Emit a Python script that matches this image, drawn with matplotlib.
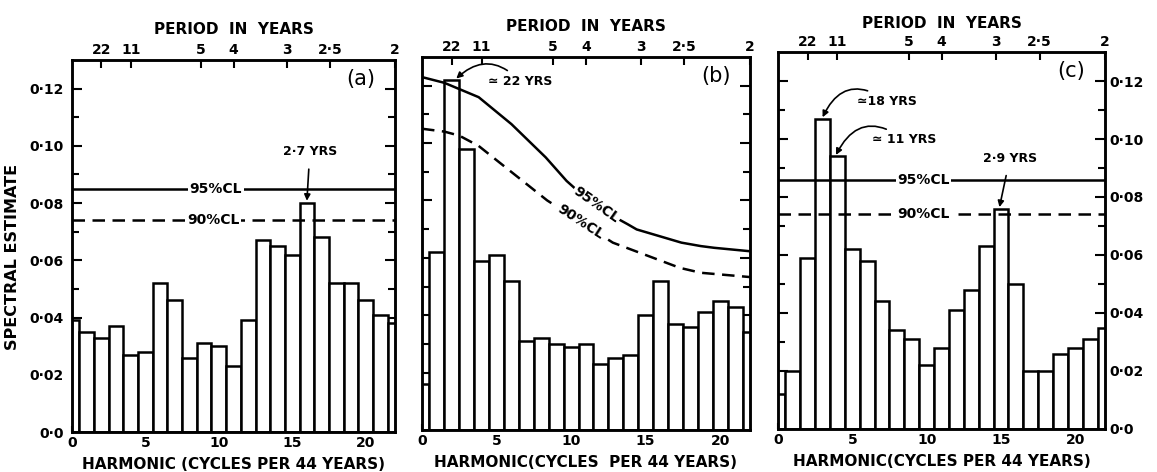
import numpy as np
import matplotlib.pyplot as plt

plt.rcParams['font.family'] = ['DejaVu Sans']

# harmonics 0..22 (cycles per 44 years)
harmonic = np.arange(0, 23)

spec_a = [0.039, 0.035, 0.033, 0.037, 0.027, 0.028, 0.052, 0.046, 0.026, 0.031, 0.030, 0.023,
          0.039, 0.067, 0.065, 0.062, 0.080, 0.068, 0.052, 0.052, 0.046, 0.041, 0.038]
spec_b = [0.016, 0.062, 0.122, 0.098, 0.059, 0.061, 0.052, 0.031, 0.032, 0.030, 0.029, 0.030,
          0.023, 0.025, 0.026, 0.040, 0.052, 0.037, 0.036, 0.041, 0.045, 0.043, 0.034]
spec_c = [0.012, 0.020, 0.059, 0.107, 0.094, 0.062, 0.058, 0.044, 0.034, 0.031, 0.022, 0.028,
          0.041, 0.048, 0.063, 0.076, 0.050, 0.020, 0.020, 0.026, 0.028, 0.031, 0.035]

# confidence limits
cl95_a, cl90_a = 0.085, 0.074
cl95_c, cl90_c = 0.086, 0.074
clx95_b = [0, 1.5, 3.8, 6.0, 8.3, 9.7, 11.6, 13.8, 14.4, 17.4, 18.7, 19.6, 22]
cl95_b = [0.123, 0.121, 0.116, 0.1066, 0.095, 0.0868, 0.078, 0.0717, 0.0699, 0.0653, 0.0641, 0.0635, 0.0623]
clx90_b = [0, 1.5, 2.5, 3.8, 8.4, 12.8, 17.3, 18.7, 22]
cl90_b = [0.105, 0.104, 0.1026, 0.099, 0.080, 0.0653, 0.0565, 0.0548, 0.0533]

# top axis: period in years
period = [22, 11, 5, 4, 3, 2.5, 2]
period_lbl = ['22', '11', '5', '4', '3', '2·5', '2']

ytick_vals = [0, 0.02, 0.04, 0.06, 0.08, 0.10, 0.12]
ytick_lbl = ['0·0', '0·02', '0·04', '0·06', '0·08', '0·10', '0·12']

LW = 1.8
fig = plt.figure(figsize=(11.57, 4.72), dpi=100)


def px_axes(l, r, t, b):
    W, H = 1157, 472
    return fig.add_axes([l / W, (H - b) / H, (r - l) / W, (b - t) / H])


def panel(ax, vals, xlabel, letter, ylab_side, title_pad):
    ax.bar(harmonic, vals, width=1.0, color='white', edgecolor='black', linewidth=LW, zorder=2)
    ax.set_xlim(0, 22)
    ax.set_ylim(0, 0.13)
    ax.set_xticks([0, 5, 10, 15, 20])
    ax.set_xticklabels(['0', '5', '10', '15', '20'], fontsize=10, fontweight='bold')
    ax.set_xticks(harmonic, minor=True)
    ax.set_yticks(ytick_vals)
    ax.set_yticks(np.arange(0.01, 0.13, 0.02), minor=True)
    ax.tick_params(axis='x', which='both', direction='in', length=4, width=1.5, pad=3)
    ax.tick_params(axis='y', which='both', direction='in', left=True, right=True, width=1.5)
    ax.tick_params(axis='y', which='major', length=7)
    ax.tick_params(axis='y', which='minor', length=5)
    if ylab_side == 'left':
        ax.set_yticklabels(ytick_lbl, fontsize=10, fontweight='bold')
        ax.tick_params(axis='y', pad=6)
    elif ylab_side == 'right':
        ax.yaxis.tick_right()
        ax.tick_params(axis='y', which='both', left=True, right=True, labelleft=False, labelright=True, pad=3)
        ax.set_yticklabels(ytick_lbl, fontsize=10, fontweight='bold')
    else:
        ax.set_yticklabels([])
    for s in ax.spines.values():
        s.set_linewidth(LW)
    ax.set_xlabel(xlabel, fontsize=11, fontweight='bold', labelpad=5)
    ax.text(0.895, 0.95, letter, transform=ax.transAxes, fontsize=15, ha='center', va='center')

    top = ax.twiny()
    top.set_xlim(0, 22)
    top.set_xticks([44 / p for p in period])
    top.set_xticklabels(period_lbl, fontsize=10, fontweight='bold')
    top.tick_params(direction='in', length=6, width=1.5, pad=2)
    top.set_title('PERIOD  IN  YEARS', fontsize=11, fontweight='bold', pad=title_pad)
    for s in top.spines.values():
        s.set_linewidth(LW)
    return ax


def cl_label(ax, x, y, s, rot=0):
    ax.text(x, y, s, fontsize=10, fontweight='bold', ha='center', va='center', rotation=rot,
            rotation_mode='anchor', zorder=5,
            bbox=dict(facecolor='white', edgecolor='none', pad=1))


# (a)
ax_a = px_axes(72, 395, 60, 432)
panel(ax_a, spec_a, 'HARMONIC (CYCLES PER 44 YEARS)', '(a)', 'left', 19)
ax_a.axhline(cl95_a, color='black', lw=LW, zorder=3)
ax_a.axhline(cl90_a, color='black', lw=LW, ls=(0, (5, 3)), zorder=3)
cl_label(ax_a, 9.8, cl95_a, '95%CL')
cl_label(ax_a, 9.6, cl90_a, '90%CL')
ax_a.annotate('2·7 YRS', xy=(16, 0.0808), xytext=(16.2, 0.098), fontsize=9, fontweight='bold',
              ha='center', va='center', zorder=6,
              arrowprops=dict(arrowstyle='-|>', color='black', lw=1.2, mutation_scale=9, shrinkA=6, shrinkB=0))
fig.text(12.5 / 1157, 1 - 257 / 472, 'SPECTRAL ESTIMATE', rotation=90, ha='center', va='center',
         fontsize=11.5, fontweight='bold')

# (b)
ax_b = px_axes(422, 750, 57, 430)
panel(ax_b, spec_b, 'HARMONIC(CYCLES  PER 44 YEARS)', '(b)', 'none', 19)
ax_b.plot(clx95_b, cl95_b, color='black', lw=LW, zorder=3)
ax_b.plot(clx90_b, cl90_b, color='black', lw=LW, ls=(0, (5, 3)), zorder=3)
cl_label(ax_b, 11.7, 0.0785, '95%CL', rot=-35)
cl_label(ax_b, 10.6, 0.0725, '90%CL', rot=-33)
ax_b.annotate('≃ 22 YRS', xy=(2.3, 0.1225), xytext=(4.4, 0.1215), fontsize=9, fontweight='bold',
              ha='left', va='center', zorder=6,
              arrowprops=dict(arrowstyle='-|>', color='black', lw=1.2, mutation_scale=9,
                              connectionstyle='arc3,rad=0.5', shrinkA=2, shrinkB=0))

# (c)
ax_c = px_axes(778, 1105, 52, 429)
panel(ax_c, spec_c, 'HARMONIC(CYCLES PER 44 YEARS)', '(c)', 'right', 17)
ax_c.axhline(cl95_c, color='black', lw=LW, zorder=3)
ax_c.axhline(cl90_c, color='black', lw=LW, ls=(0, (5, 3)), zorder=3)
cl_label(ax_c, 9.8, cl95_c, '95%CL')
cl_label(ax_c, 9.8, cl90_c, '90%CL')
ax_c.annotate('≃18 YRS', xy=(3.0, 0.1075), xytext=(5.3, 0.1131), fontsize=9, fontweight='bold',
              ha='left', va='center', zorder=6,
              arrowprops=dict(arrowstyle='-|>', color='black', lw=1.2, mutation_scale=9,
                              connectionstyle='arc3,rad=0.6', shrinkA=2, shrinkB=0))
ax_c.annotate('≃ 11 YRS', xy=(3.9, 0.0945), xytext=(6.3, 0.0998), fontsize=9, fontweight='bold',
              ha='left', va='center', zorder=6,
              arrowprops=dict(arrowstyle='-|>', color='black', lw=1.2, mutation_scale=9,
                              connectionstyle='arc3,rad=0.6', shrinkA=2, shrinkB=0))
ax_c.annotate('2·9 YRS', xy=(14.9, 0.0765), xytext=(15.6, 0.0934), fontsize=9, fontweight='bold',
              ha='center', va='center', zorder=6,
              arrowprops=dict(arrowstyle='-|>', color='black', lw=1.2, mutation_scale=9, shrinkA=6, shrinkB=0))

fig.savefig('out.png', dpi=100)
